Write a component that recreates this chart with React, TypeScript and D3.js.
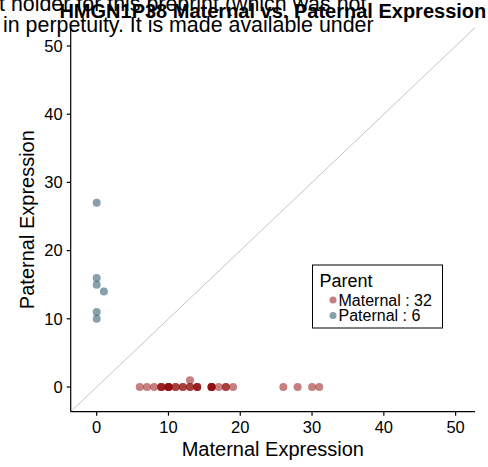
import React from "react";
import * as d3 from "d3";

const maternalX = [6, 7, 8, 9, 9, 9, 10, 10, 10, 10, 11, 11, 12, 12, 13, 13, 13, 14, 14, 14, 16, 16, 16, 16, 17, 18, 18, 19, 26, 28, 30, 31];
const maternalY = [0, 0, 0, 0, 0, 0, 0, 0, 0, 0, 0, 0, 0, 0, 0, 0, 1, 0, 0, 0, 0, 0, 0, 0, 0, 0, 0, 0, 0, 0, 0, 0];
const paternalX = [0, 0, 0, 1, 0, 0];
const paternalY = [27, 16, 15, 14, 11, 10];
const xTicks = [0, 10, 20, 30, 40, 50];
const yTicks = [0, 10, 20, 30, 40, 50];
const legendLabels = ["Maternal : 32", "Paternal : 6"];
const colors = ["#8B0000", "#0f4259"];

const FONT = "'Liberation Sans', Arial, Helvetica, sans-serif";

export default function App() {
  const W = 488, H = 467;
  const left = 70.7, right = 475, top = 27.6, bottom = 411.7;
  const x = d3.scaleLinear().domain([-3.62, 52.7]).range([left, right]);
  const y = d3.scaleLinear().domain([-3.62, 52.7]).range([bottom, top]);
  const maternal = maternalX.map((v, i) => ({ x: v, y: maternalY[i] }));
  const paternal = paternalX.map((v, i) => ({ x: v, y: paternalY[i] }));
  const diag = d3.line<number>().x((d) => x(d)).y((d) => y(d))([-3.62, 52.7]) || "";

  return (
    <svg width={W} height={H} style={{ position: "absolute", left: 0, top: 0, background: "#fff" }} fontFamily={FONT}>
      <rect x={0} y={0} width={W} height={H} fill="#fff" />
      <path d={diag} stroke="#c4c4c4" strokeWidth={1} fill="none" />
      {maternal.map((d, i) => (
        <circle key={"m" + i} cx={x(d.x)} cy={y(d.y)} r={4} fill={colors[0]} fillOpacity={0.5} />
      ))}
      {paternal.map((d, i) => (
        <circle key={"p" + i} cx={x(d.x)} cy={y(d.y)} r={4} fill={colors[1]} fillOpacity={0.5} />
      ))}
      {/* axes */}
      <line x1={left} x2={left} y1={top} y2={bottom} stroke="#000" strokeWidth={1.2} />
      <line x1={left} x2={right} y1={bottom} y2={bottom} stroke="#000" strokeWidth={1.2} />
      {xTicks.map((t) => (
        <g key={"xt" + t}>
          <line x1={x(t)} x2={x(t)} y1={bottom} y2={bottom + 4} stroke="#000" strokeWidth={1.2} />
          <text x={x(t)} y={433} textAnchor="middle" fontSize={16.5}>{t}</text>
        </g>
      ))}
      {yTicks.map((t) => (
        <g key={"yt" + t}>
          <line x1={left - 4} x2={left} y1={y(t)} y2={y(t)} stroke="#000" strokeWidth={1.2} />
          <text x={left - 8} y={y(t) + 5.8} textAnchor="end" fontSize={16.5}>{t}</text>
        </g>
      ))}
      <text x={(left + right) / 2} y={456} textAnchor="middle" fontSize={20}>Maternal Expression</text>
      <text transform={`translate(34,${(top + bottom) / 2}) rotate(-90)`} textAnchor="middle" fontSize={20}>Paternal Expression</text>
      {/* legend */}
      <rect x={312.5} y={265} width={130} height={63} fill="#fff" stroke="#000" strokeWidth={1} />
      <text x={319.5} y={286.5} fontSize={18}>Parent</text>
      {legendLabels.map((l, i) => (
        <g key={l}>
          <circle cx={333} cy={300 + i * 15.5} r={3.5} fill={colors[i]} fillOpacity={0.5} />
          <text x={338.5} y={305.5 + i * 15.5} fontSize={16}>{l}</text>
        </g>
      ))}
      {/* overlapping preprint text and title */}
      <text x={-1} y={11} fontSize={21.4}>t holder for this preprint (which was not</text>
      <text x={3} y={32} fontSize={21.4}>in perpetuity. It is made available under</text>
      <text x={(left + right) / 2} y={18} textAnchor="middle" fontSize={20} fontWeight="bold">HMGN1P38 Maternal vs. Paternal Expression</text>
    </svg>
  );
}
